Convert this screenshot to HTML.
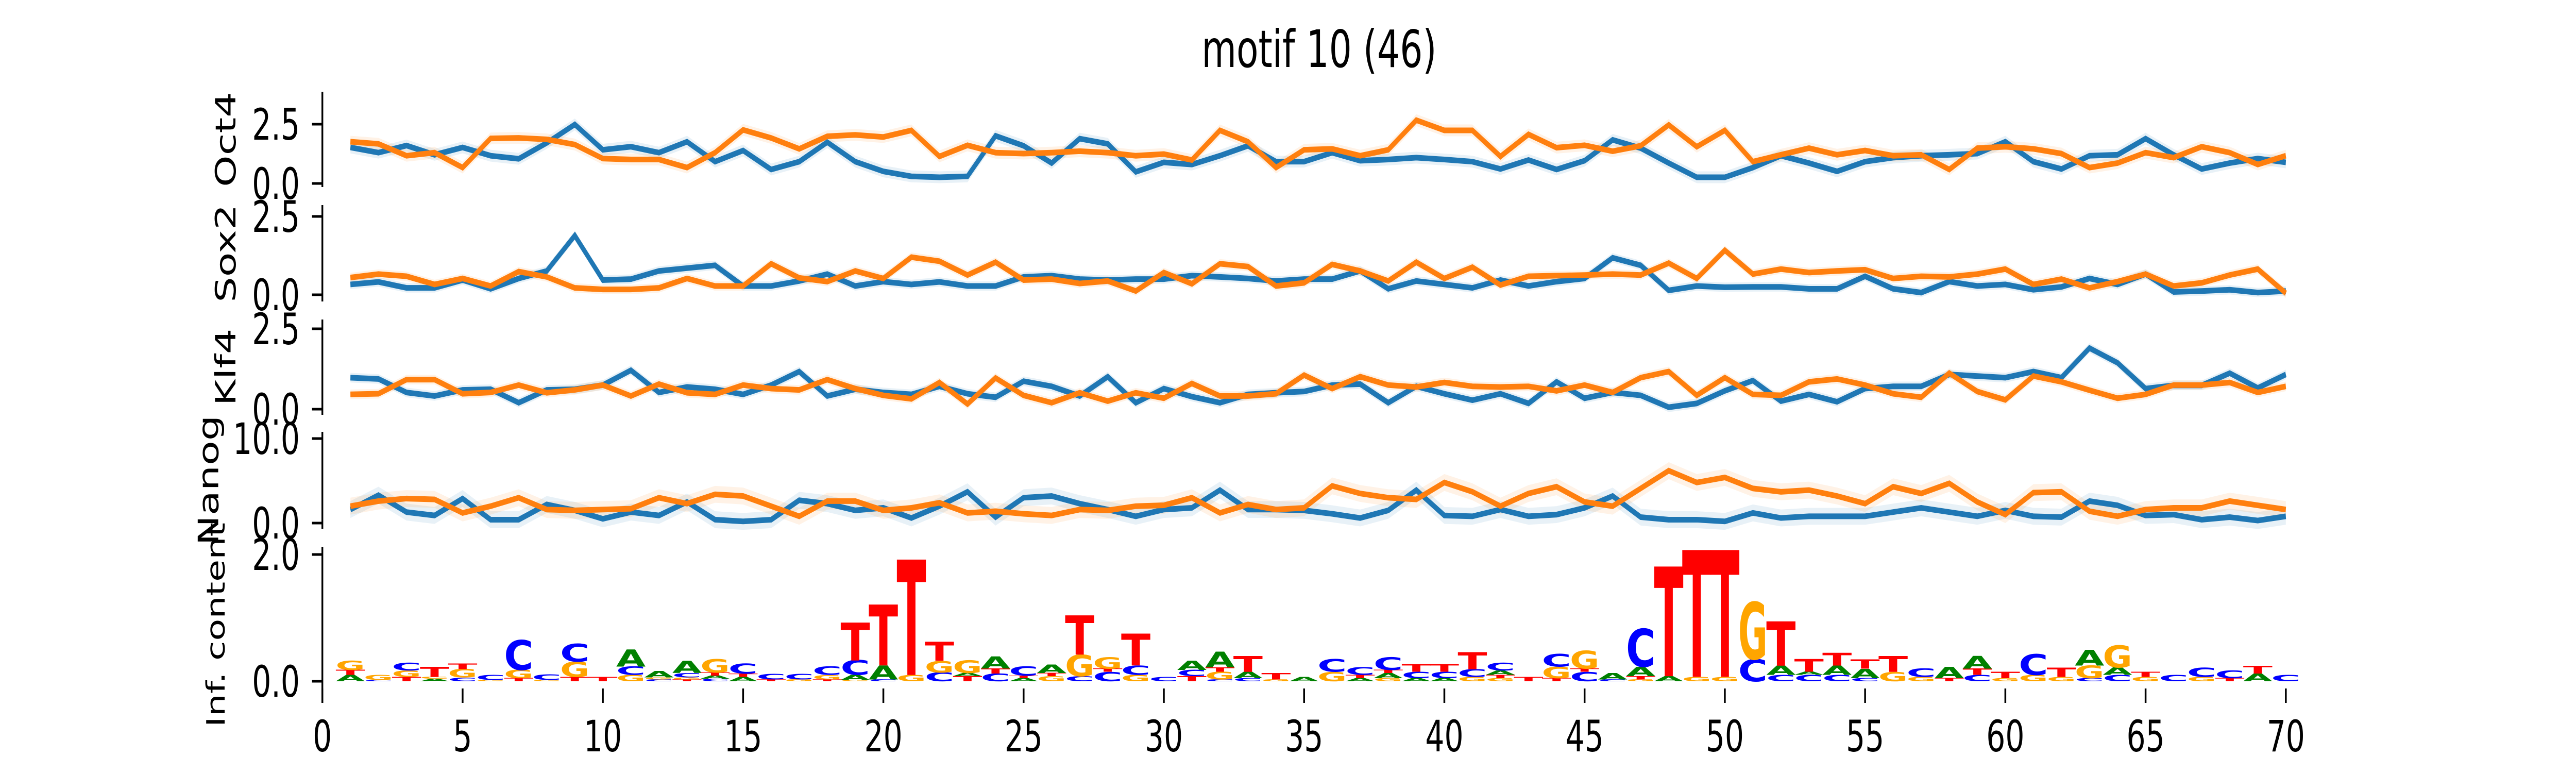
<!DOCTYPE html>
<html><head><meta charset="utf-8">
<style>
html,body{margin:0;padding:0;background:#fff;width:100%;height:100%;overflow:hidden;}
svg{display:block;width:100vw;height:100vh;font-family:"DejaVu Sans","Liberation Sans",sans-serif;}
</style></head>
<body>
<svg id="chart" viewBox="0 0 7200 1500" preserveAspectRatio="none" xmlns="http://www.w3.org/2000/svg">
<rect width="7200" height="1500" fill="#fff"/>
<text x="3687" y="130" font-size="100" text-anchor="middle">motif 10 (46)</text>
<g id="panels"></g>
</svg>
<script>
const positions = Array.from({length:70},(_,i)=>i+1);
const xTicks = [0,5,10,15,20,25,30,35,40,45,50,55,60,65,70];

const oct4Blue = [1.52,1.3,1.6,1.21,1.52,1.17,1.04,1.71,2.49,1.42,1.55,1.30,1.76,0.92,1.39,0.59,0.92,1.74,0.92,
0.51,0.3,0.26,0.3,2.01,1.59,0.86,1.89,1.67,0.49,0.89,0.8,1.17,1.59,0.92,0.92,1.3,0.96,
1.01,1.09,1.01,0.92,0.61,0.99,0.59,0.96,1.84,1.49,0.86,0.26,0.26,0.67,1.17,0.86,0.51,0.92,
1.09,1.17,1.21,1.26,1.76,0.92,0.61,1.17,1.21,1.89,1.21,0.61,0.86,1.05,0.89];
const oct4Orange = [1.76,1.67,1.17,1.3,0.67,1.9,1.92,1.86,1.64,1.05,1.01,1.01,0.67,1.3,2.26,1.92,1.46,1.99,2.05,
1.96,2.24,1.14,1.61,1.3,1.26,1.3,1.36,1.3,1.17,1.24,0.99,2.24,1.76,0.67,1.42,1.46,1.17,
1.42,2.67,2.24,2.24,1.14,2.07,1.51,1.61,1.36,1.59,2.47,1.55,2.24,0.92,1.21,1.49,1.21,1.39,
1.17,1.21,0.59,1.49,1.55,1.46,1.26,0.67,0.86,1.3,1.09,1.55,1.3,0.8,1.17];
const sox2Blue = [0.33,0.41,0.22,0.22,0.47,0.19,0.52,0.76,1.89,0.47,0.5,0.76,0.85,0.94,0.28,0.28,0.44,0.66,0.28,
0.42,0.33,0.41,0.28,0.28,0.57,0.61,0.5,0.47,0.5,0.5,0.61,0.57,0.52,0.44,0.5,0.5,0.76,
0.19,0.44,0.33,0.22,0.47,0.28,0.42,0.52,1.18,0.94,0.14,0.28,0.24,0.25,0.25,0.19,0.19,0.59,
0.19,0.07,0.42,0.28,0.33,0.16,0.25,0.52,0.33,0.66,0.09,0.12,0.16,0.07,0.12];
const sox2Orange = [0.55,0.66,0.59,0.33,0.52,0.28,0.74,0.57,0.22,0.17,0.17,0.22,0.52,0.28,0.28,0.99,0.54,0.42,0.76,
0.52,1.2,1.07,0.63,1.04,0.47,0.5,0.36,0.44,0.12,0.71,0.35,0.99,0.9,0.28,0.38,0.97,0.76,
0.44,1.04,0.52,0.88,0.31,0.59,0.61,0.63,0.66,0.63,1.01,0.52,1.42,0.66,0.82,0.71,0.76,0.8,
0.52,0.59,0.57,0.66,0.82,0.33,0.5,0.22,0.42,0.66,0.28,0.38,0.63,0.82,0.05];
const klf4Blue = [0.98,0.94,0.52,0.41,0.6,0.62,0.2,0.6,0.62,0.75,1.21,0.52,0.69,0.62,0.46,0.75,1.17,0.41,0.62,
0.52,0.46,0.71,0.48,0.37,0.87,0.71,0.41,1.01,0.2,0.64,0.39,0.2,0.46,0.51,0.55,0.75,0.78,
0.2,0.71,0.48,0.28,0.48,0.18,0.85,0.34,0.52,0.43,0.06,0.18,0.57,0.89,0.25,0.46,0.23,0.64,
0.71,0.71,1.08,1.03,0.98,1.17,0.98,1.9,1.44,0.64,0.74,0.74,1.12,0.66,1.08];
const klf4Orange = [0.46,0.48,0.92,0.92,0.48,0.52,0.75,0.51,0.6,0.75,0.41,0.78,0.51,0.46,0.75,0.64,0.6,0.92,0.64,
0.43,0.32,0.83,0.16,0.97,0.43,0.2,0.51,0.25,0.51,0.34,0.8,0.41,0.41,0.48,1.06,0.64,1.01,
0.75,0.69,0.83,0.71,0.69,0.71,0.57,0.75,0.52,0.98,1.17,0.43,0.98,0.46,0.43,0.85,0.94,0.75,
0.48,0.37,1.12,0.55,0.29,1.03,0.85,0.59,0.34,0.46,0.75,0.75,0.83,0.52,0.71];
const nanogBlue = [1.6,3.3,1.3,0.9,2.9,0.4,0.4,2.2,1.5,0.5,1.3,0.9,2.5,0.4,0.2,0.4,2.7,2.3,1.5,
1.8,0.6,2.0,3.7,0.7,3.0,3.2,2.3,1.6,0.8,1.6,1.8,3.9,1.6,1.6,1.5,1.1,0.6,
1.5,3.9,0.9,0.8,1.6,0.8,1.0,1.8,3.2,0.7,0.4,0.4,0.2,1.2,0.6,0.8,0.8,0.8,
1.3,1.8,1.3,0.8,1.5,0.8,0.7,2.6,2.1,0.9,1.0,0.4,0.7,0.3,0.8];
const nanogOrange = [2.0,2.6,2.9,2.8,1.2,2.0,3.0,1.6,1.5,1.6,1.7,3.0,2.3,3.4,3.2,2.0,0.8,2.6,2.6,
1.5,1.8,2.4,1.2,1.4,1.1,0.9,1.6,1.5,2.0,2.1,3.0,1.2,2.2,1.6,1.8,4.4,3.5,
3.0,2.8,4.8,3.7,2.0,3.5,4.3,2.5,2.0,4.1,6.2,4.8,5.4,4.1,3.7,3.9,3.2,2.3,
4.3,3.5,4.7,2.5,1.0,3.6,3.7,1.4,0.8,1.6,1.8,1.8,2.6,2.1,1.6];

// sequence logo: stacks bottom-to-top, [base, bits]
const logoStacks = [
[["A",0.1],["T",0.08],["G",0.15]],[["C",0.02],["G",0.08]],[["T",0.07],["G",0.1],["C",0.12]],[["A",0.04],["G",0.03],["T",0.16]],
[["C",0.06],["G",0.13],["T",0.09]],[["G",0.02],["C",0.08]],[["T",0.05],["G",0.13],["C",0.47]],[["G",0.02],["C",0.09]],
[["T",0.07],["G",0.24],["C",0.28]],[["T",0.07]],[["G",0.1],["C",0.13],["A",0.27]],[["C",0.03],["G",0.03],["A",0.1]],
[["T",0.03],["G",0.03],["C",0.07],["A",0.19]],[["C",0.04],["A",0.05],["T",0.05],["G",0.21]],[["A",0.07],["T",0.05],["C",0.16]],[["T",0.03],["C",0.09]],
[["G",0.03],["C",0.09]],[["T",0.03],["G",0.07],["C",0.13]],[["G",0.02],["A",0.08],["C",0.23],["T",0.6]],[["C",0.03],["A",0.22],["T",0.96]],
[["G",0.1],["T",1.82]],[["C",0.14],["G",0.18],["T",0.3]],[["T",0.08],["A",0.05],["G",0.2]],[["C",0.12],["T",0.08],["A",0.19]],
[["A",0.05],["T",0.04],["C",0.15]],[["G",0.08],["T",0.05],["A",0.13]],[["C",0.08],["G",0.34],["T",0.62]],[["C",0.15],["T",0.05],["G",0.18]],
[["G",0.1],["C",0.15],["T",0.5]],[["C",0.07]],[["T",0.08],["C",0.1],["A",0.15]],[["C",0.03],["G",0.12],["T",0.07],["A",0.25]],
[["C",0.05],["A",0.1],["T",0.25]],[["G",0.03],["T",0.1]],[["A",0.07]],[["G",0.15],["C",0.2]],
[["A",0.05],["T",0.05],["C",0.12]],[["G",0.05],["A",0.08],["T",0.05],["C",0.2]],[["A",0.05],["C",0.1],["T",0.12]],[["A",0.05],["C",0.1],["T",0.12]],
[["G",0.07],["C",0.12],["T",0.27]],[["G",0.05],["T",0.05],["A",0.07],["C",0.12]],[["T",0.07]],[["T",0.05],["G",0.18],["C",0.2]],
[["C",0.15],["T",0.05],["G",0.28]],[["C",0.03],["A",0.1]],[["G",0.03],["T",0.05],["A",0.15],["C",0.6]],[["A",0.08],["T",1.73]],
[["G",0.07],["T",2.0]],[["G",0.07],["T",2.0]],[["C",0.35],["G",0.9]],[["C",0.1],["A",0.15],["T",0.7]],
[["C",0.1],["A",0.05],["T",0.2]],[["C",0.1],["A",0.15],["T",0.2]],[["C",0.05],["A",0.15],["T",0.15]],[["G",0.15],["T",0.25]],
[["G",0.07],["C",0.13]],[["T",0.05],["A",0.18]],[["C",0.1],["T",0.1],["A",0.2]],[["G",0.05],["T",0.1]],
[["G",0.1],["C",0.33]],[["G",0.07],["T",0.15]],[["C",0.05],["G",0.2],["A",0.25]],[["C",0.1],["A",0.12],["G",0.35]],
[["G",0.07],["T",0.08]],[["C",0.1]],[["G",0.07],["C",0.15]],[["T",0.05],["C",0.12]],
[["A",0.12],["T",0.12]],[["C",0.1]]
];

const NS = "http://www.w3.org/2000/svg";
const root = document.getElementById("panels");
const X0 = 901, XS = 78.4;
function xPx(v){ return X0 + XS*v; }
function makeY(zero, perUnit){ return v => zero - perUnit*v; }
function el(tag, attrs, parent){ const e=document.createElementNS(NS,tag); for(const k in attrs) e.setAttribute(k,attrs[k]); (parent||root).appendChild(e); return e; }

const panels = [
 {name:"oct4", label:"Oct4", top:178, bottom:363, y:makeY(356,46), ticks:[0,2.5], fmt:v=>v.toFixed(1), blue:oct4Blue, orange:oct4Orange, band:0.25, labelX:630},
 {name:"sox2", label:"Sox2", top:398, bottom:585, y:makeY(572,60.8), ticks:[0,2.5], fmt:v=>v.toFixed(1), blue:sox2Blue, orange:sox2Orange, band:0.15, labelX:630},
 {name:"klf4", label:"Klf4", top:620, bottom:805, y:makeY(794,62.4), ticks:[0,2.5], fmt:v=>v.toFixed(1), blue:klf4Blue, orange:klf4Orange, band:0.15, labelX:630},
 {name:"nanog", label:"Nanog", top:838, bottom:1026, y:makeY(1015,16.4), ticks:[0,10], fmt:v=>v.toFixed(1), blue:nanogBlue, orange:nanogOrange, band:1.0, labelX:582}
];

function axisLeft(p, g){
  const spine = el("line",{x1:X0,x2:X0,y1:p.top,y2:p.bottom,stroke:"#000","stroke-width":5},g);
  
  
  p.ticks.forEach(t=>{
    const yy=p.y(t);
    const tk=el("line",{x1:X0-29,x2:X0,y1:yy,y2:yy,stroke:"#000","stroke-width":5},g);
    
    
    const tl=el("text",{x:838,y:yy+30,"font-size":84,"text-anchor":"end"},g);
    tl.textContent=p.fmt(t);
    
    
  });
  const cy=(p.top+p.bottom)/2;
  const lab=el("text",{x:0,y:0,"font-size":p.labelSize||78,"text-anchor":"middle",transform:`translate(${p.labelX+28},${cy}) rotate(-90)`},g);
  lab.textContent=p.label;
  
  
}

panels.forEach(p=>{
  const g=el("g",{});
  
  
  [["blue","#1f77b4"],["orange","#ff7f0e"]].forEach(([key,col])=>{
    const vals=p[key];
    const up=positions.map((x,i)=>`${xPx(x)},${p.y(vals[i]+p.band)}`);
    const dn=positions.map((x,i)=>`${xPx(x)},${p.y(vals[i]-p.band)}`).reverse();
    const band=el("polygon",{points:up.concat(dn).join(" "),fill:col,"fill-opacity":0.1},g);
    
    
  });
  [["blue","#1f77b4"],["orange","#ff7f0e"]].forEach(([key,col])=>{
    const vals=p[key];
    const line=el("polyline",{points:positions.map((x,i)=>`${xPx(x)},${p.y(vals[i])}`).join(" "),fill:"none",stroke:col,"stroke-width":11,"stroke-linejoin":"miter","stroke-miterlimit":4},g);
    
    
  });
  axisLeft(p,g);
});

// logo panel
const logo = {name:"logo", label:"Inf. content", top:1061, bottom:1364, y:makeY(1322,123), ticks:[0,2], fmt:v=>v.toFixed(1), labelX:600, labelSize:70};
const lg=el("g",{});


const baseColor={A:"#008000",C:"#0000ff",G:"#ffa500",T:"#ff0000"};
const LW=1.05;
logoStacks.forEach((stack,i)=>{
  const pos=positions[i];
  let acc=0;
  stack.forEach(([b,h])=>{
    const yb=logo.y(acc), yt=logo.y(acc+h);
    const hp=yb-yt;
    acc+=h;
    if(hp<0.5) return;
    const F=100, cap=72.9;
    const wPx=LW*XS;
    const t=el("text",{x:0,y:0,"font-size":F,"font-weight":"bold",fill:baseColor[b],textLength:wPx,lengthAdjust:"spacingAndGlyphs",
      transform:`translate(${xPx(pos)-wPx/2},${yb}) scale(1,${hp/cap})`},lg);
    t.textContent=b;
    
    
  });
});
axisLeft(logo,lg);
xTicks.forEach(v=>{
  const tk=el("line",{x1:xPx(v),x2:xPx(v),y1:1336,y2:1364,stroke:"#000","stroke-width":5},lg);
  
  
  const tl=el("text",{x:xPx(v),y:1458,"font-size":84,"text-anchor":"middle"},lg);
  tl.textContent=String(v);
  
  
});
</script>
</body></html>
